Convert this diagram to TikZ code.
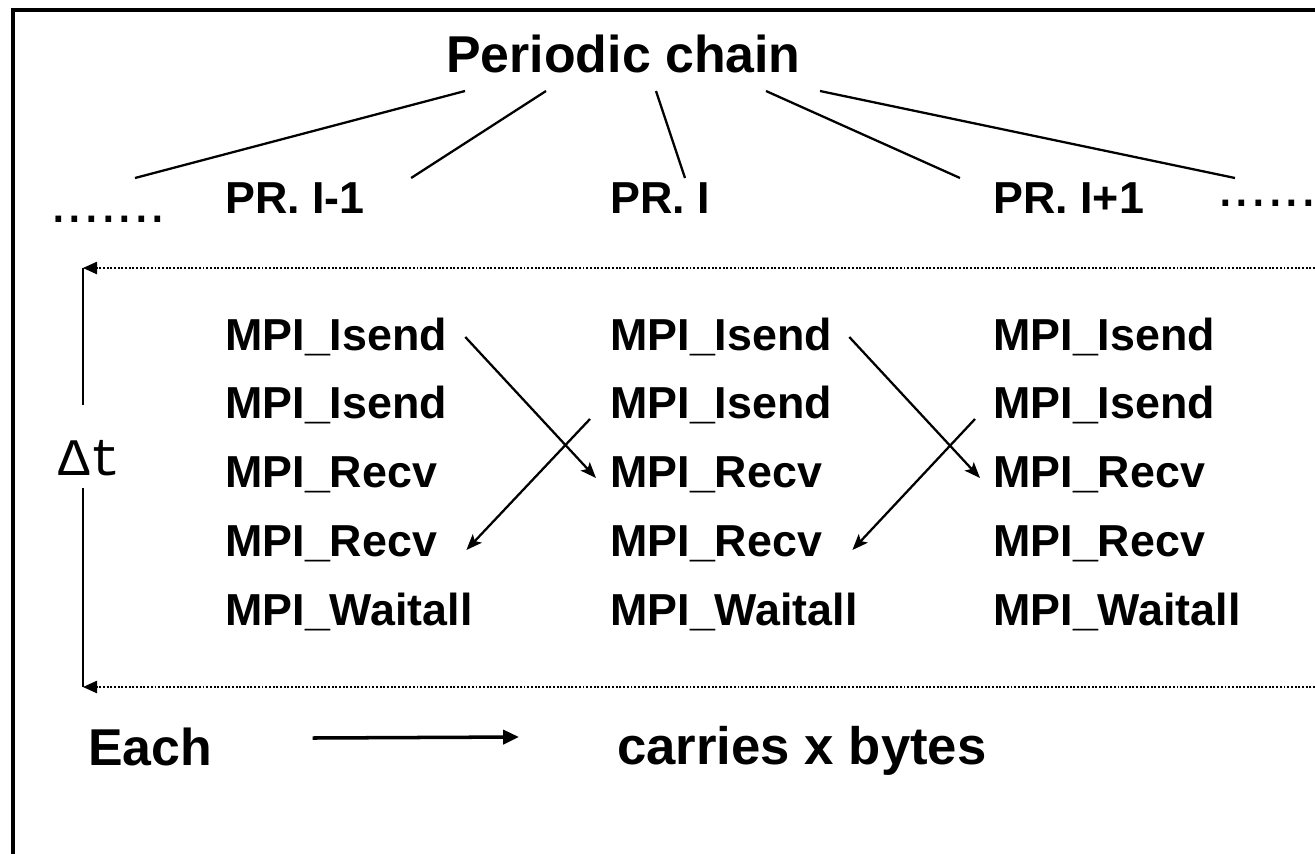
\documentclass[tikz,border=0pt]{standalone}
\usepackage{fontspec}
\setmainfont{Liberation Sans}
\newfontfamily\monofont{Liberation Mono}
\usetikzlibrary{arrows.meta}

\begin{document}
\begin{tikzpicture}[x=0.02cm,y=-0.02cm]
\tikzstyle{every node}+=[inner sep=0pt]
\tikzstyle{call}=[anchor=base west,font=\fontsize{25.5}{30}\selectfont\bfseries]
\tikzstyle{head}=[anchor=base west,font=\fontsize{29.5}{35}\selectfont\bfseries]
\tikzstyle{dots}=[anchor=base west,font=\fontsize{34}{40}\selectfont]
\tikzstyle{branch}=[line width=1.3pt]
\tikzstyle{msg}=[line width=1.3pt,-{Stealth[length=9pt,width=7pt,inset=2pt]}]
\tikzstyle{bound}=[line width=0.9pt,dash pattern=on 1.1pt off 1pt,-{Triangle[length=8pt,width=7pt]}]
\useasboundingbox (0,0) rectangle (1315,853);
\draw [line width=2pt] (1320,10) -| (13,860);
% title and processes
\node [head] (title) at (446,72) {Periodic chain};
\node [dots] (dotsl) at (50,222) {.......};
\node [call] (pr1) at (225,213) {PR. I-1};
\node [call] (pr2) at (610,213) {PR. I};
\node [call] (pr3) at (993,213) {PR. I+1};
\node [dots] (dotsr) at (1217,206) {......};
\draw [branch] ([shift={(-158.5,19)}]title.base) -- ([shift={(85,-44)}]dotsl.base west);
\draw [branch] ([shift={(-77.5,19)}]title.base) -- ([shift={(46,-35)}]pr1.base east);
\draw [branch] ([shift={(32.5,19)}]title.base) -- ([shift={(75,-35)}]pr2.base west);
\draw [branch] ([shift={(142.5,19)}]title.base) -- ([shift={(-33,-35)}]pr3.base west);
\draw [branch] ([shift={(196.5,19)}]title.base) -- ([shift={(18,-28)}]dotsr.base west);
% column 1
\node [call] (s1a) at (225,350) {MPI\_Isend};
\node [call] (s1b) at (225,418) {MPI\_Isend};
\node [call] (r1a) at (225,487) {MPI\_Recv};
\node [call] (r1b) at (225,556) {MPI\_Recv};
\node [call] (w1) at (225,625) {MPI\_Waitall};
% column 2
\node [call] (s2a) at (610,350) {MPI\_Isend};
\node [call] (s2b) at (610,418) {MPI\_Isend};
\node [call] (r2a) at (610,487) {MPI\_Recv};
\node [call] (r2b) at (610,556) {MPI\_Recv};
\node [call] (w2) at (610,625) {MPI\_Waitall};
% column 3
\node [call] (s3a) at (993,350) {MPI\_Isend};
\node [call] (s3b) at (993,418) {MPI\_Isend};
\node [call] (r3a) at (993,487) {MPI\_Recv};
\node [call] (r3b) at (993,556) {MPI\_Recv};
\node [call] (w3) at (993,625) {MPI\_Waitall};
% messages
\draw [msg] ([shift={(18,-13)}]s1a.base east) -- ([shift={(-14,-9)}]r2a.base west);
\draw [msg] ([shift={(-20,1)}]s2b.base west) -- ([shift={(29,-6)}]r1b.base east);
\draw [msg] ([shift={(17,-13)}]s2a.base east) -- ([shift={(-13,-9)}]r3a.base west);
\draw [msg] ([shift={(-18,1)}]s3b.base west) -- ([shift={(30,-6)}]r2b.base east);
% time window
\node [anchor=base west,font=\monofont\fontsize{30}{36}\selectfont,text height=1.4cm,text depth=0.26cm] (dt) at (58,475) {Δt};
\coordinate (tl) at (83,268);
\coordinate (tr) at (1315,268);
\coordinate (bl) at (83,687);
\coordinate (br) at (1315,687);
\draw [bound] (tr) -- (tl);
\draw [bound] (br) -- (bl);
\draw [line width=1.2pt] (dt.north -| tl) -- (tl);
\draw [line width=1.2pt] (dt.south -| bl) -- (bl);
% legend
\node [head] (each) at (88,765) {Each};
\node [head,font=\fontsize{30}{36}\selectfont\bfseries] (carry) at (617,764) {carries x bytes};
\draw [line width=2pt,-{Triangle[length=9pt,width=8pt]}] ([shift={(100,-27)}]each.base east) -- ([shift={(-98,-27)}]carry.base west);
\end{tikzpicture}
\end{document}
